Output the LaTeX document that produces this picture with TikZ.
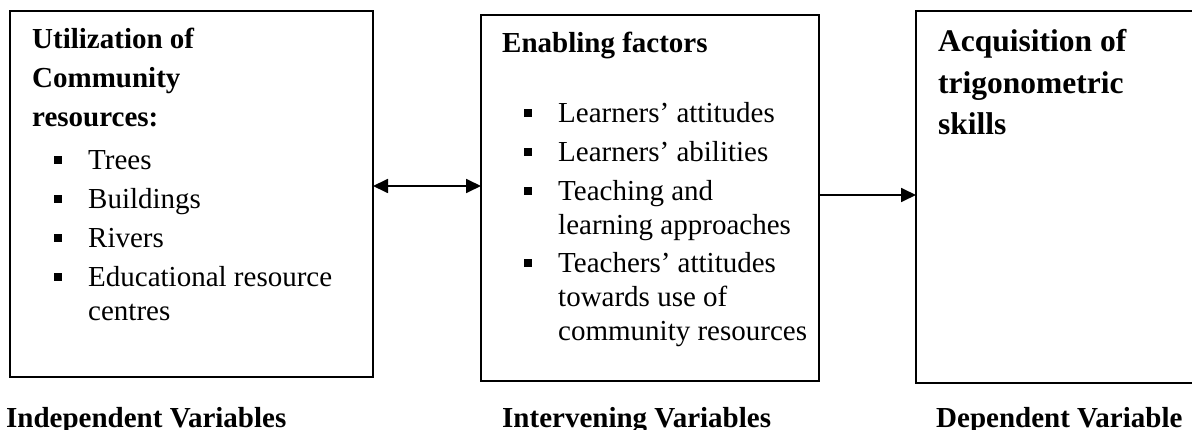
\documentclass[tikz,border=0pt]{standalone}
\usepackage{fontspec}
\setmainfont{Liberation Serif}
\usetikzlibrary{arrows.meta}
\begin{document}
\begin{tikzpicture}[x=1pt,y=-1pt,
  txt/.style={anchor=base west, inner sep=0pt, font=\fontsize{29}{32}\selectfont},
  hd/.style={txt, font=\fontsize{29}{32}\selectfont\bfseries},
  hdbig/.style={txt, font=\fontsize{31.5}{34}\selectfont\bfseries},
  bul/.style={fill=black, inner sep=0pt, minimum size=7.5pt, rectangle},
  boxst/.style={draw=black, line width=2pt},
  arr/.style={line width=1.8pt, -{Triangle[length=15pt,width=14pt]}},
  darr/.style={line width=1.8pt, {Triangle[length=15pt,width=14pt]}-{Triangle[length=15pt,width=14pt]}}]
\useasboundingbox (0,0) rectangle (1192,430);
% boxes
\coordinate (b1tl) at (10,11); \coordinate (b1br) at (373,377);
\coordinate (b2tl) at (481,15); \coordinate (b2br) at (819,381);
\coordinate (b3tl) at (916,11); \coordinate (b3br) at (1196,383);
\draw[boxst] (b1tl) rectangle (b1br);
\draw[boxst] (b2tl) rectangle (b2br);
\draw[boxst] (b3tl) rectangle (b3br);
% connectors
\coordinate (a1s) at (373,186); \coordinate (a1e) at (481,186);
\coordinate (a2s) at (820,195); \coordinate (a2e) at (916,195);
\draw[darr] (a1s) -- (a1e);
\draw[arr] (a2s) -- (a2e);
% box 1
\node[hd] (u1) at (32,49) {Utilization of};
\node[hd] (u2) at (32,88) {Community};
\node[hd] (u3) at (32,127) {resources:};
\node[txt] (t1) at (88,170) {Trees};
\node[txt] (t2) at (88,209) {Buildings};
\node[txt] (t3) at (88,248) {Rivers};
\node[txt] (t4) at (88,287) {Educational resource};
\node[txt] (t5) at (88,321) {centres};
\node[bul] (p1) at (58,160) {};
\node[bul] (p2) at (58,199) {};
\node[bul] (p3) at (58,238) {};
\node[bul] (p4) at (58,277) {};
% box 2
\node[hd] (e0) at (502,53) {Enabling factors};
\node[txt] (e1) at (558,123) {Learners’ attitudes};
\node[txt] (e2) at (558,162) {Learners’ abilities};
\node[txt] (e3) at (558,201) {Teaching and};
\node[txt] (e4) at (558,235) {learning approaches};
\node[txt] (e5) at (558,273) {Teachers’ attitudes};
\node[txt] (e6) at (558,307) {towards use of};
\node[txt] (e7) at (558,341) {community resources};
\node[bul] (q1) at (528,113) {};
\node[bul] (q2) at (528,152) {};
\node[bul] (q3) at (528,191) {};
\node[bul] (q4) at (528,263) {};
% box 3
\node[hdbig] (c1) at (938,52) {Acquisition of};
\node[hdbig] (c2) at (938,94) {trigonometric};
\node[hdbig] (c3) at (938,135) {skills};
% labels
\node[hd] (l1) at (6,427) {Independent Variables};
\node[hd] (l2) at (502,427) {Intervening Variables};
\node[hd] (l3) at (936,427) {Dependent Variable};
\end{tikzpicture}
\end{document}
